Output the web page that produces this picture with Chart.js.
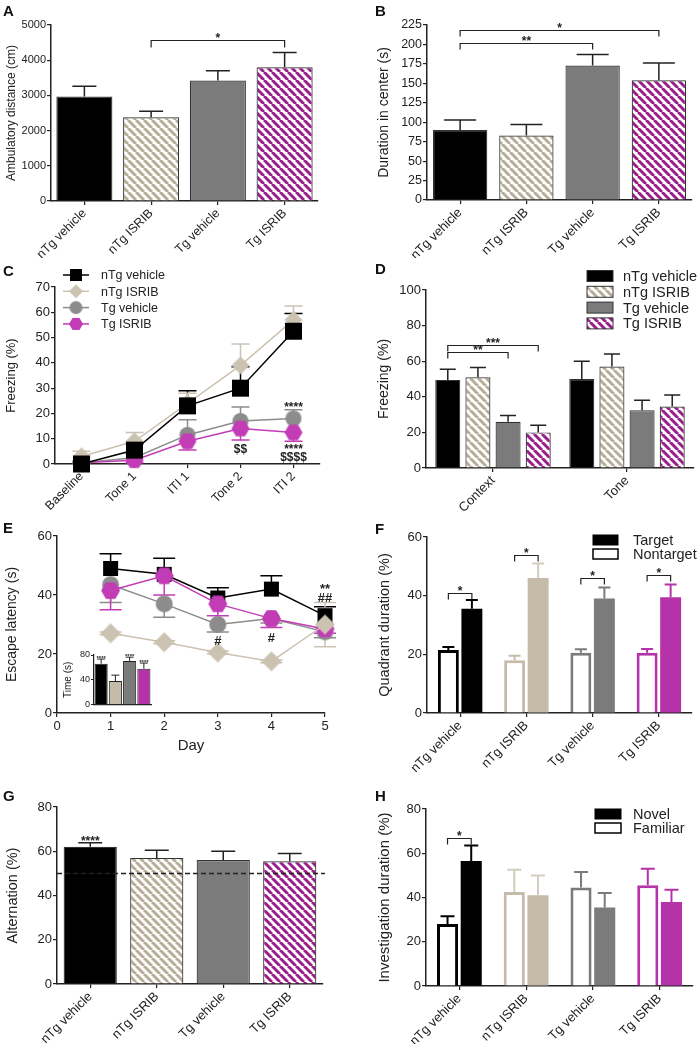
<!DOCTYPE html>
<html>
<head>
<meta charset="utf-8">
<title>ISRIB behaviour panels</title>
<script src="https://cdn.jsdelivr.net/npm/chart.js@4.4.1/dist/chart.umd.min.js"></script>
<style>
  body { margin: 0; background: #fff; }
  #fig { position: relative; width: 700px; height: 1044px; overflow: hidden; background: #fff; }
  #fig canvas { position: absolute; }
  .tag { position: absolute; font: bold 15px "Liberation Sans", Arial, sans-serif; color: #111; }
</style>
</head>
<body>
<div id="fig">
  <canvas id="chartA" width="350" height="258" style="left:0;top:0"></canvas>
  <canvas id="chartB" width="350" height="258" style="left:350px;top:0"></canvas>
  <canvas id="chartC" width="350" height="258" style="left:0;top:258px"></canvas>
  <canvas id="chartD" width="350" height="258" style="left:350px;top:258px"></canvas>
  <canvas id="chartE" width="350" height="258" style="left:0;top:516px"></canvas>
  <canvas id="chartEin" width="100" height="66" style="left:58px;top:645px"></canvas>
  <canvas id="chartF" width="350" height="258" style="left:350px;top:516px"></canvas>
  <canvas id="chartG" width="350" height="270" style="left:0;top:774px"></canvas>
  <canvas id="chartH" width="350" height="270" style="left:350px;top:774px"></canvas>
  <div class="tag" style="left:3px;top:2px">A</div>
  <div class="tag" style="left:375px;top:2px">B</div>
  <div class="tag" style="left:3px;top:262px">C</div>
  <div class="tag" style="left:375px;top:260px">D</div>
  <div class="tag" style="left:3px;top:519px">E</div>
  <div class="tag" style="left:375px;top:520px">F</div>
  <div class="tag" style="left:3px;top:787px">G</div>
  <div class="tag" style="left:375px;top:787px">H</div>
</div>
<script>
// ---- data ----
const groups = ['nTg vehicle', 'nTg ISRIB', 'Tg vehicle', 'Tg ISRIB'];

// A - open field, distance
const ambulatoryMean = [2970, 2380, 3420, 3800];
const ambulatorySem = [290, 170, 280, 420];
const bracketsA = [{ a: [0, 1], b: [0, 3], at: 4580, text: '*' }];

// B - open field, time in center
const centerMean = [90, 83, 173, 154];
const centerSem = [13, 14, 14, 22];
const bracketsB = [
  { a: [0, 0], b: [0, 2], at: 202, text: '**' },
  { a: [0, 0], b: [0, 3], at: 218, text: '*' }
];

// C - fear conditioning training
const phases = ['Baseline', 'Tone 1', 'ITI 1', 'Tone 2', 'ITI 2'];
const trainNtgVeh = [0, 5.5, 23, 30, 52.5];
const trainNtgVehSem = [1, 2.5, 6, 8.5, 7];
const trainNtgIsrib = [3, 9, 24, 39, 57];
const trainNtgIsribSem = [2, 3.5, 4, 8.5, 5.5];
const trainTgVeh = [0.5, 2.5, 11.5, 17, 18];
const trainTgVehSem = [0.5, 1.5, 6, 5.5, 3.5];
const trainTgIsrib = [0.5, 1.5, 9, 14, 12.5];
const trainTgIsribSem = [0.5, 1, 3.5, 4.5, 3.5];
const trainMarks = [
  { x: 4, y: 23.7, text: '****' },
  { x: 3, y: 6, text: '$$' },
  { x: 4, y: 7, text: '****' },
  { x: 4, y: 2.8, text: '$$$$' }
];

// D - context / tone tests
const tests = ['Context', 'Tone'];
const testNtgVeh = [49.5, 50];
const testNtgVehSem = [6, 10];
const testNtgIsrib = [51, 57];
const testNtgIsribSem = [5.5, 7];
const testTgVeh = [26, 32.5];
const testTgVehSem = [3.5, 5.5];
const testTgIsrib = [20, 34.5];
const testTgIsribSem = [4, 6.5];
const bracketsD = [
  { a: [0, 0], b: [2, 0], at: 65, text: '**' },
  { a: [0, 0], b: [3, 0], at: 69, text: '***' }
];

// E - water maze escape latency
const days = [1, 2, 3, 4, 5];
const escNtgVeh = [49, 47, 39, 42, 33];
const escNtgVehSem = [5, 5.5, 3.5, 4.5, 3];
const escNtgIsrib = [27, 24, 20.5, 17.5, 30];
const escNtgIsribSem = [0.5, 0.5, 0.5, 0.5, 7.5];
const escTgVeh = [43.5, 37, 30, 32, 27.5];
const escTgVehSem = [6, 4.5, 2.5, 1.5, 2];
const escTgIsrib = [41.5, 46.5, 37, 32, 28.5];
const escTgIsribSem = [6.5, 6.5, 4, 3, 1.5];
const escMarks = [
  { x: 5, y: 43.4, text: '**' },
  { x: 5, y: 39.3, text: '##' },
  { x: 3, y: 24.7, text: '#' },
  { x: 4, y: 25.8, text: '#' }
];
// E inset - time (s)
const insetMean = [66, 38, 70.5, 58];
const insetSem = [7.5, 9.5, 6, 9];
const insetStars = ['****', '', '****', '****'];

// F - probe trial quadrant duration
const quadNontarget = [21.5, 18, 20.5, 20.5];
const quadNontargetSem = [1, 1.5, 1.2, 1.3];
const quadTarget = [35.5, 46, 39, 39.5];
const quadTargetSem = [3, 5, 3.8, 4.3];
const bracketsF = [
  { a: [0, 0], b: [1, 0], at: 41, text: '*' },
  { a: [0, 1], b: [1, 1], at: 54, text: '*' },
  { a: [0, 2], b: [1, 2], at: 46, text: '*' },
  { a: [0, 3], b: [1, 3], at: 47, text: '*' }
];

// G - alternation
const altMean = [62, 57, 56, 55.5];
const altSem = [1.8, 3.5, 4, 3.5];
const altStars = ['****', '', '', ''];
const chanceLevel = 50;

// H - novel object
const objFamiliar = [28, 42.5, 44.5, 45.5];
const objFamiliarSem = [3.5, 10, 7, 7.5];
const objNovel = [56.5, 41, 35.5, 38];
const objNovelSem = [7, 9, 6.5, 5.5];
const bracketsH = [{ a: [0, 0], b: [1, 0], at: 67, text: '*' }];

// ---- styling ----
const FONT = '"Liberation Sans", Arial, Helvetica, sans-serif';
const INK = '#222';
const BLACK = '#000';
const TAN = '#c5bba9';
const TAN_LIGHT = '#d4ccbf';
const GREY = '#7b7b7b';
const MAG = '#b632a8';
const MARK_TAN = '#cbc2b2';
const MARK_GREY = '#8c8c8c';
const MARK_MAG = '#c23cb5';

Chart.defaults.font.family = FONT;
Chart.defaults.color = INK;
Chart.defaults.animation = false;
Chart.defaults.responsive = false;
Chart.defaults.devicePixelRatio = 1;
Chart.defaults.plugins.legend.display = false;
Chart.defaults.plugins.tooltip.enabled = false;

function hatch(color) {
  const s = 8, c = document.createElement('canvas');
  c.width = c.height = s;
  const g = c.getContext('2d');
  g.fillStyle = '#fff';
  g.fillRect(0, 0, s, s);
  g.strokeStyle = color;
  g.lineWidth = 3;
  g.beginPath();
  for (const o of [-s, 0, s]) { g.moveTo(o, 0); g.lineTo(o + s, s); }
  g.stroke();
  return g.createPattern(c, 'repeat');
}
const TAN_HATCH = hatch('#b8ad99');
const MAG_HATCH = hatch('#9c1e8d');

function marker(shape, color, size) {
  const c = document.createElement('canvas');
  c.width = c.height = size + 2;
  const g = c.getContext('2d'), m = (size + 2) / 2, r = size / 2;
  g.fillStyle = color;
  g.beginPath();
  if (shape === 'square') g.rect(m - r, m - r, size, size);
  else if (shape === 'diamond') { g.moveTo(m, m - r); g.lineTo(m + r, m); g.lineTo(m, m + r); g.lineTo(m - r, m); }
  else if (shape === 'circle') g.arc(m, m, r, 0, Math.PI * 2);
  else for (let k = 0; k < 6; k++) {
    const t = k * Math.PI / 3;
    g.lineTo(m + r * Math.cos(t), m + r * Math.sin(t));
  }
  g.closePath();
  g.fill();
  return c;
}

// ---- axes ----
function yAxis(max, step, title, o) {
  return {
    min: 0, max,
    ticks: { stepSize: step, font: { size: o.tick }, color: INK, padding: 1, callback: v => String(v) },
    grid: { drawOnChartArea: false, drawTicks: true, tickLength: 4, color: INK, lineWidth: 1.2 },
    border: { color: INK, width: 1.5 },
    title: { display: true, text: title, font: { size: o.title }, color: INK },
    afterFit(s) { s.width = o.width; }
  };
}
function xAxis(o) {
  return {
    offset: true,
    ticks: { minRotation: 45, maxRotation: 45, autoSkip: false, font: { size: o.tick }, color: INK, padding: 1 },
    grid: { drawOnChartArea: false, drawTicks: true, tickLength: 4, color: INK, lineWidth: 1.2, offset: false },
    border: { color: INK, width: 1.5 },
    afterFit(s) { s.height = o.height; }
  };
}

// ---- plugins ----
function valueOf(v) { return typeof v === 'object' ? v.y : v; }

function errorBars(cap, width, behind) {
  const draw = chart => {
    const ctx = chart.ctx, ys = chart.scales.y;
    chart.data.datasets.forEach((ds, di) => {
      if (!ds.sem) return;
      chart.getDatasetMeta(di).data.forEach((el, i) => {
        const v = valueOf(ds.data[i]), e = ds.sem[i];
        const y0 = ys.getPixelForValue(v);
        const ends = [];
        if (ds.errDir !== 'down') ends.push(ys.getPixelForValue(v + e));
        if (ds.errDir === 'down' || ds.errDir === 'both') ends.push(ys.getPixelForValue(v - e));
        ctx.save();
        ctx.strokeStyle = Array.isArray(ds.errColor) ? ds.errColor[i] : (ds.errColor || INK);
        ctx.lineWidth = width;
        ctx.beginPath();
        ends.forEach(ye => {
          ctx.moveTo(el.x, y0); ctx.lineTo(el.x, ye);
          ctx.moveTo(el.x - cap, ye); ctx.lineTo(el.x + cap, ye);
        });
        ctx.stroke();
        ctx.restore();
      });
    });
  };
  return behind ? { id: 'errorBars', beforeDatasetsDraw: draw } : { id: 'errorBars', afterDatasetsDraw: draw };
}

function capStars(size, gap) {
  return {
    id: 'capStars',
    afterDatasetsDraw(chart) {
      const ctx = chart.ctx, ys = chart.scales.y;
      chart.data.datasets.forEach((ds, di) => {
        if (!ds.stars) return;
        chart.getDatasetMeta(di).data.forEach((el, i) => {
          if (!ds.stars[i]) return;
          const top = ys.getPixelForValue(ds.data[i] + ds.sem[i]);
          ctx.save();
          ctx.fillStyle = INK;
          ctx.font = `bold ${size}px ${FONT}`;
          ctx.textAlign = 'center';
          ctx.textBaseline = 'alphabetic';
          ctx.fillText(ds.stars[i], el.x, top - gap + size * 0.42);
          ctx.restore();
        });
      });
    }
  };
}

function brackets(list, drop, size) {
  return {
    id: 'brackets',
    afterDatasetsDraw(chart) {
      const ctx = chart.ctx, ys = chart.scales.y;
      list.forEach(b => {
        const x1 = chart.getDatasetMeta(b.a[0]).data[b.a[1]].x;
        const x2 = chart.getDatasetMeta(b.b[0]).data[b.b[1]].x;
        const y = Math.round(ys.getPixelForValue(b.at)) + 0.5;
        ctx.save();
        ctx.strokeStyle = INK;
        ctx.lineWidth = 1.2;
        ctx.beginPath();
        ctx.moveTo(x1, y + drop); ctx.lineTo(x1, y); ctx.lineTo(x2, y); ctx.lineTo(x2, y + drop);
        ctx.stroke();
        ctx.fillStyle = INK;
        ctx.font = `bold ${size}px ${FONT}`;
        ctx.textAlign = 'center';
        ctx.textBaseline = 'alphabetic';
        ctx.fillText(b.text, (x1 + x2) / 2, y + size * 0.12);
        ctx.restore();
      });
    }
  };
}

function marks(list, size) {
  return {
    id: 'marks',
    afterDatasetsDraw(chart) {
      const ctx = chart.ctx;
      list.forEach(n => {
        const x = chart.scales.x.getPixelForValue(n.x);
        const y = chart.scales.y.getPixelForValue(n.y);
        const lift = /^\*+$/.test(n.text) ? 0.58 : 0.36;
        ctx.save();
        ctx.fillStyle = INK;
        ctx.font = `bold ${size}px ${FONT}`;
        ctx.textAlign = 'center';
        ctx.textBaseline = 'alphabetic';
        ctx.fillText(n.text, x, y + size * lift);
        ctx.restore();
      });
    }
  };
}

function chanceLine(value) {
  return {
    id: 'chanceLine',
    afterDatasetsDraw(chart) {
      const ctx = chart.ctx, a = chart.chartArea;
      const y = Math.round(chart.scales.y.getPixelForValue(value)) + 0.5;
      ctx.save();
      ctx.strokeStyle = INK;
      ctx.lineWidth = 1.3;
      ctx.setLineDash([5, 3]);
      ctx.beginPath();
      ctx.moveTo(a.left, y); ctx.lineTo(a.right + 2, y);
      ctx.stroke();
      ctx.restore();
    }
  };
}

function key(items, o) {
  return {
    id: 'key',
    afterDraw(chart) {
      const ctx = chart.ctx;
      items.forEach((it, k) => {
        const y = o.y + k * o.gap;
        ctx.save();
        if (it.marker) {
          ctx.strokeStyle = it.line;
          ctx.lineWidth = 1.5;
          ctx.beginPath();
          ctx.moveTo(o.x, y); ctx.lineTo(o.x + o.w, y);
          ctx.stroke();
          ctx.drawImage(it.marker, o.x + o.w / 2 - it.marker.width / 2, y - it.marker.height / 2);
        } else {
          ctx.fillStyle = it.fill;
          ctx.fillRect(o.x, y - o.h / 2, o.w, o.h);
          ctx.strokeStyle = it.stroke || INK;
          ctx.lineWidth = it.lw || 1;
          ctx.strokeRect(o.x, y - o.h / 2, o.w, o.h);
        }
        ctx.fillStyle = INK;
        ctx.font = `${o.size}px ${FONT}`;
        ctx.textAlign = 'left';
        ctx.textBaseline = 'middle';
        ctx.fillText(it.label, o.textX, y + 1);
        ctx.restore();
      });
    }
  };
}

function make(id, config) {
  config.options.events = [];
  return new Chart(document.getElementById(id), config);
}

// ---- A ----
make('chartA', {
  type: 'bar',
  data: {
    labels: groups,
    datasets: [{
      data: ambulatoryMean, sem: ambulatorySem,
      backgroundColor: [BLACK, TAN_HATCH, GREY, MAG_HATCH],
      borderColor: '#333', borderWidth: 1.2,
      barPercentage: 0.84, categoryPercentage: 1
    }]
  },
  options: {
    layout: { padding: { left: 0, right: 32, top: 25, bottom: 0 } },
    scales: {
      x: xAxis({ tick: 12.5, height: 57 }),
      y: yAxis(5000, 1000, 'Ambulatory distance (cm)', { tick: 11, title: 12, width: 51 })
    }
  },
  plugins: [errorBars(12, 1.5), brackets(bracketsA, 7, 12)]
});

// ---- B ----
make('chartB', {
  type: 'bar',
  data: {
    labels: groups,
    datasets: [{
      data: centerMean, sem: centerSem,
      backgroundColor: [BLACK, TAN_HATCH, GREY, MAG_HATCH],
      borderColor: '#333', borderWidth: 1.2,
      barPercentage: 0.82, categoryPercentage: 1
    }]
  },
  options: {
    layout: { padding: { left: 22, right: 8, top: 25, bottom: 0 } },
    scales: {
      x: xAxis({ tick: 13, height: 58 }),
      y: yAxis(225, 25, 'Duration in center (s)', { tick: 12.5, title: 14, width: 55 })
    }
  },
  plugins: [errorBars(16, 1.5), brackets(bracketsB, 6, 12)]
});

// ---- C ----
const trainSets = [
  { label: 'nTg vehicle', data: trainNtgVeh, sem: trainNtgVehSem, color: BLACK, shape: 'square', size: 17, legend: 12, order: 0 },
  { label: 'nTg ISRIB', data: trainNtgIsrib, sem: trainNtgIsribSem, color: MARK_TAN, shape: 'diamond', size: 18, legend: 14, order: 1 },
  { label: 'Tg vehicle', data: trainTgVeh, sem: trainTgVehSem, color: MARK_GREY, shape: 'circle', size: 16, legend: 13, order: 3 },
  { label: 'Tg ISRIB', data: trainTgIsrib, sem: trainTgIsribSem, color: MARK_MAG, shape: 'hexagon', size: 18, legend: 14, order: 2, errDir: 'down' }
];
make('chartC', {
  type: 'line',
  data: {
    labels: phases,
    datasets: trainSets.map(s => ({
      label: s.label, data: s.data, sem: s.sem, errColor: s.color, errDir: s.errDir,
      borderColor: s.color, borderWidth: 1.5, order: s.order, clip: false,
      pointStyle: marker(s.shape, s.color, s.size), pointRadius: 9
    }))
  },
  options: {
    layout: { padding: { left: 0, right: 30, top: 29, bottom: 0 } },
    scales: {
      x: xAxis({ tick: 12.5, height: 52 }),
      y: yAxis(70, 10, 'Freezing (%)', { tick: 13, title: 13, width: 55 })
    }
  },
  plugins: [
    errorBars(9, 1.5, true), marks(trainMarks, 12),
    key(trainSets.map(s => ({ label: s.label, line: s.color, marker: marker(s.shape, s.color, s.legend) })),
      { x: 63, y: 17, gap: 16.3, w: 26, size: 12.5, textX: 101 })
  ]
});

// ---- D ----
const testSets = [
  { label: 'nTg vehicle', data: testNtgVeh, sem: testNtgVehSem, fill: BLACK },
  { label: 'nTg ISRIB', data: testNtgIsrib, sem: testNtgIsribSem, fill: TAN_HATCH },
  { label: 'Tg vehicle', data: testTgVeh, sem: testTgVehSem, fill: GREY },
  { label: 'Tg ISRIB', data: testTgIsrib, sem: testTgIsribSem, fill: MAG_HATCH }
];
make('chartD', {
  type: 'bar',
  data: {
    labels: tests,
    datasets: testSets.map(s => ({
      label: s.label, data: s.data, sem: s.sem,
      backgroundColor: s.fill, borderColor: '#333', borderWidth: 1.2,
      barPercentage: 0.83, categoryPercentage: 0.9
    }))
  },
  options: {
    layout: { padding: { left: 22, right: 6, top: 32, bottom: 0 } },
    scales: {
      x: xAxis({ tick: 13, height: 48 }),
      y: yAxis(100, 20, 'Freezing (%)', { tick: 13, title: 14, width: 54 })
    }
  },
  plugins: [
    errorBars(8, 1.5), brackets(bracketsD, 6, 12),
    key(testSets.map(s => ({ label: s.label, fill: s.fill, stroke: '#333' })),
      { x: 237, y: 18, gap: 15.8, w: 26, h: 11, size: 14.5, textX: 273 })
  ]
});

// ---- E ----
const escSets = [
  { label: 'nTg vehicle', data: escNtgVeh, sem: escNtgVehSem, color: BLACK, shape: 'square', size: 15, order: 3 },
  { label: 'nTg ISRIB', data: escNtgIsrib, sem: escNtgIsribSem, color: MARK_TAN, shape: 'diamond', size: 20, order: 0, errDir: 'both' },
  { label: 'Tg vehicle', data: escTgVeh, sem: escTgVehSem, color: MARK_GREY, shape: 'circle', size: 17, order: 2, errDir: 'down' },
  { label: 'Tg ISRIB', data: escTgIsrib, sem: escTgIsribSem, color: MARK_MAG, shape: 'hexagon', size: 19, order: 1, errDir: 'down' }
];
make('chartE', {
  type: 'line',
  data: {
    datasets: escSets.map(s => ({
      label: s.label, data: days.map((d, i) => ({ x: d, y: s.data[i] })), sem: s.sem,
      errColor: s.color, errDir: s.errDir,
      borderColor: s.color, borderWidth: 1.5, order: s.order, clip: false,
      pointStyle: marker(s.shape, s.color, s.size), pointRadius: 9
    }))
  },
  options: {
    layout: { padding: { left: 0, right: 25, top: 20, bottom: 15 } },
    scales: {
      x: {
        type: 'linear', min: 0, max: 5,
        ticks: { stepSize: 1, font: { size: 13 }, color: INK, padding: 2 },
        grid: { drawOnChartArea: false, drawTicks: true, tickLength: 4, color: INK, lineWidth: 1.2 },
        border: { color: INK, width: 1.5 },
        title: { display: true, text: 'Day', font: { size: 15 }, color: INK },
        afterFit(s) { s.height = 46; }
      },
      y: yAxis(60, 20, 'Escape latency (s)', { tick: 13, title: 14, width: 57 })
    }
  },
  plugins: [errorBars(11, 1.5, true), marks(escMarks, 13)]
});

make('chartEin', {
  type: 'bar',
  data: {
    labels: groups,
    datasets: [{
      data: insetMean, sem: insetSem, stars: insetStars,
      backgroundColor: [BLACK, TAN, GREY, MAG],
      borderColor: '#222', borderWidth: 1,
      barPercentage: 0.92, categoryPercentage: 1
    }]
  },
  options: {
    layout: { padding: { left: 0, right: 7, top: 10, bottom: 0 } },
    scales: {
      x: {
        offset: true,
        ticks: { display: false },
        grid: { display: false },
        border: { color: INK, width: 1.2 },
        afterFit(s) { s.height = 5; }
      },
      y: {
        min: 0, max: 80,
        ticks: { stepSize: 40, font: { size: 9 }, color: INK, padding: 1 },
        grid: { drawOnChartArea: false, drawTicks: true, tickLength: 3, color: INK, lineWidth: 1 },
        border: { color: INK, width: 1.2 },
        title: { display: true, text: 'Time (s)', font: { size: 10 }, color: INK },
        afterFit(s) { s.width = 36; }
      }
    }
  },
  plugins: [errorBars(4, 1), capStars(6, 2)]
});

// ---- F ----
const groupColors = [BLACK, TAN, GREY, MAG];
make('chartF', {
  type: 'bar',
  data: {
    labels: groups,
    datasets: [
      {
        label: 'Nontarget', data: quadNontarget, sem: quadNontargetSem,
        backgroundColor: '#fff', borderColor: groupColors, borderWidth: 3,
        errColor: groupColors, barPercentage: 0.89, categoryPercentage: 0.71
      },
      {
        label: 'Target', data: quadTarget, sem: quadTargetSem,
        backgroundColor: groupColors, borderWidth: 0,
        errColor: [BLACK, TAN_LIGHT, GREY, MAG], barPercentage: 0.89, categoryPercentage: 0.71
      }
    ]
  },
  options: {
    layout: { padding: { left: 22, right: 8, top: 21, bottom: 0 } },
    scales: {
      x: xAxis({ tick: 13, height: 61 }),
      y: yAxis(60, 20, 'Quadrant duration (%)', { tick: 13, title: 14.5, width: 55 })
    }
  },
  plugins: [
    errorBars(6, 2), brackets(bracketsF, 6, 12),
    key([{ label: 'Target', fill: BLACK, stroke: BLACK }, { label: 'Nontarget', fill: '#fff', stroke: BLACK, lw: 1.5 }],
      { x: 243, y: 24, gap: 14, w: 25, h: 10, size: 14.5, textX: 283 })
  ]
});

// ---- G ----
make('chartG', {
  type: 'bar',
  data: {
    labels: groups,
    datasets: [{
      data: altMean, sem: altSem, stars: altStars,
      backgroundColor: [BLACK, TAN_HATCH, GREY, MAG_HATCH],
      borderColor: '#333', borderWidth: 1.2,
      barPercentage: 0.8, categoryPercentage: 1
    }]
  },
  options: {
    layout: { padding: { left: 0, right: 27, top: 33, bottom: 0 } },
    scales: {
      x: xAxis({ tick: 13, height: 60 }),
      y: yAxis(80, 20, 'Alternation (%)', { tick: 13, title: 14.5, width: 57 })
    }
  },
  plugins: [errorBars(12, 1.5), capStars(12, 3), chanceLine(chanceLevel)]
});

// ---- H ----
make('chartH', {
  type: 'bar',
  data: {
    labels: groups,
    datasets: [
      {
        label: 'Familiar', data: objFamiliar, sem: objFamiliarSem,
        backgroundColor: '#fff', borderColor: groupColors, borderWidth: 3,
        errColor: [BLACK, TAN_LIGHT, GREY, MAG], barPercentage: 0.89, categoryPercentage: 0.71
      },
      {
        label: 'Novel', data: objNovel, sem: objNovelSem,
        backgroundColor: groupColors, borderWidth: 0,
        errColor: [BLACK, TAN_LIGHT, GREY, MAG], barPercentage: 0.89, categoryPercentage: 0.71
      }
    ]
  },
  options: {
    layout: { padding: { left: 22, right: 7, top: 35, bottom: 0 } },
    scales: {
      x: xAxis({ tick: 13, height: 58 }),
      y: yAxis(80, 20, 'Investigation duration (%)', { tick: 13, title: 15, width: 54 })
    }
  },
  plugins: [
    errorBars(7, 2), brackets(bracketsH, 6, 12),
    key([{ label: 'Novel', fill: BLACK, stroke: BLACK }, { label: 'Familiar', fill: '#fff', stroke: BLACK, lw: 1.5 }],
      { x: 245, y: 40, gap: 14, w: 26, h: 10, size: 14.5, textX: 283 })
  ]
});
</script>
</body>
</html>
